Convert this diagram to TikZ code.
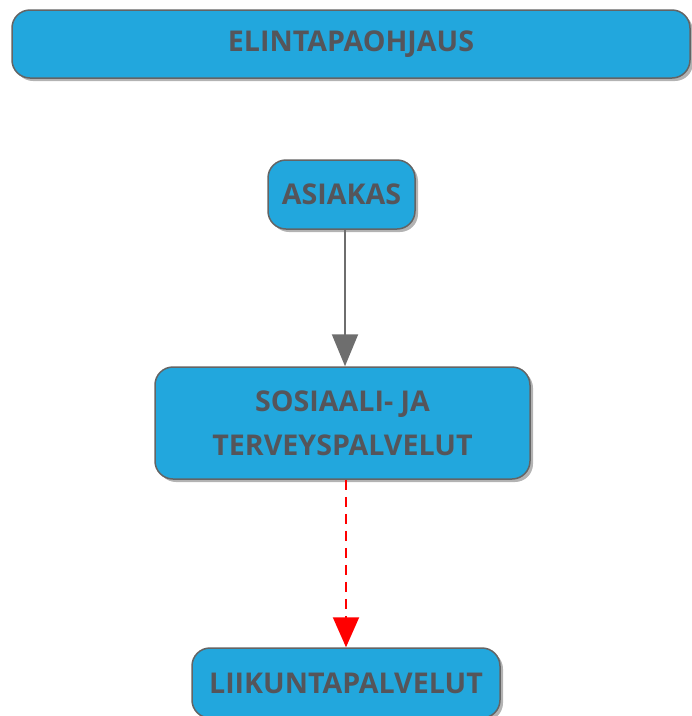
\documentclass[tikz,border=0pt]{standalone}
\usepackage{fontspec}
\setmainfont{Open Sans}
\usetikzlibrary{positioning}
\usetikzlibrary{arrows.meta}
\usetikzlibrary{shadows}
\definecolor{boxblue}{RGB}{34,167,221}
\definecolor{boxline}{RGB}{100,100,100}
\definecolor{boxtext}{RGB}{85,85,90}
\definecolor{arrowgray}{RGB}{110,110,110}
\tikzset{
	box/.style={draw=boxline, line width=1.5pt, fill=boxblue, rounded corners=18pt,
		text=boxtext, font=\fontsize{28.6}{44}\selectfont\bfseries, align=center,
		inner sep=0pt, drop shadow={shadow xshift=3pt, shadow yshift=-3pt, opacity=0.6}},
	flow/.style={draw=arrowgray, line width=2pt, -{Triangle[width=26pt,length=32pt]}},
	hint/.style={draw=red, line width=2pt, dash pattern=on 10pt off 7pt, -{Triangle[width=26pt,length=30pt]}},
}

\begin{document}
\begin{tikzpicture}[x=1pt,y=-1pt]
	\useasboundingbox (0,0) rectangle (692,716);
	
	% boxes..........................
	\node [box, minimum width=678pt, minimum height=68pt] (ohjaus) at (351,44) {ELINTAPAOHJAUS};
	\node [box, minimum width=147pt, minimum height=69pt] (asiakas) at (341.5,194.5) {ASIAKAS};
	\node [box, minimum width=375pt, minimum height=112pt] (sote) at (342.5,423) {SOSIAALI- JA\\TERVEYSPALVELUT};
	\node [box, minimum width=308pt, minimum height=70pt] (liikunta) at (346,683) {LIIKUNTAPALVELUT};
	
	% arrows.........................
	\draw [flow] (asiakas.south -| 345,0) to (sote.north -| 345,0);
	\draw [hint] (sote.south -| 346,0) to (liikunta.north -| 346,0);
\end{tikzpicture}
\end{document}
